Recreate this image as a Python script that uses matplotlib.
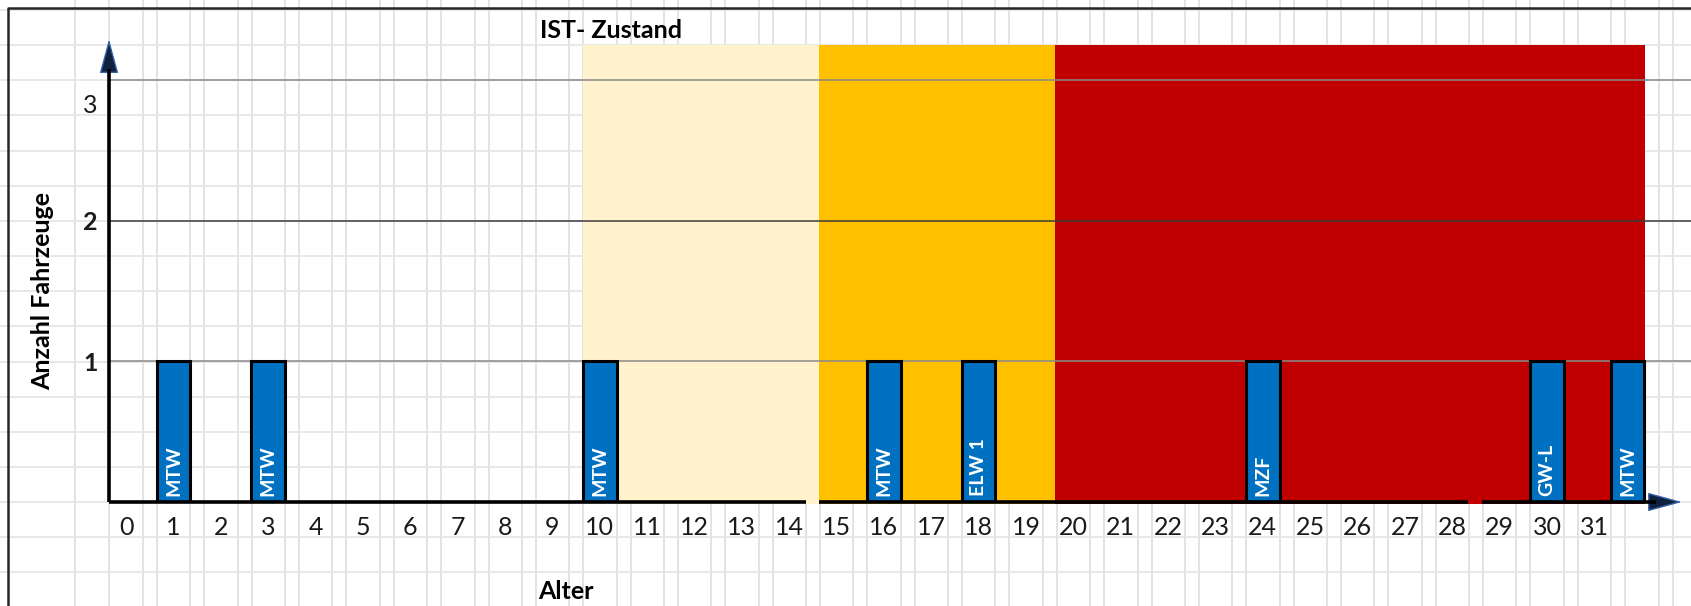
import matplotlib
matplotlib.use('Agg')
import matplotlib.pyplot as plt
import matplotlib.transforms as mtransforms
from matplotlib.lines import Line2D

plt.rcParams['font.family'] = ['Lato', 'DejaVu Sans']

# --- data ---
ages = list(range(32))
age_labels = [str(a) for a in ages]

bar_pos = [1, 3, 10, 16, 18, 24, 30, 31.7]
bar_counts = [1, 1, 1, 1, 1, 1, 1, 1]
bar_names = ['MTW', 'MTW', 'MTW', 'MTW', 'ELW 1', 'MZF', 'GW-L', 'MTW']

zone_edges = [9.64, 14.62, 19.62, 32.07]
zone_colors = ['#FFF2CC', '#FFC000', '#C00000']
zone_top = 3.25

y_ticks = [1, 2, 3]
y_tick_labels = ['1', '2', '3']
y_grid_colors = ['#8a8a8a', '#3c3c3c', '#8a8a8a']

W, H = 1691, 606
fig = plt.figure(figsize=(W / 100, H / 100), dpi=100)

# spreadsheet cell grid shining through the transparent chart
cols = [75, 109] + [143 + 47.36 * k for k in range(33)] + [157 + 47.36 * k for k in range(33)]
rows = [10 + 35.15 * k for k in range(18)]
for cx in cols:
    fig.add_artist(Line2D([cx / W, cx / W], [0, 1], color='#e0e0e0', lw=1.3, zorder=-3))
for ry in rows:
    fig.add_artist(Line2D([0, 1], [1 - ry / H, 1 - ry / H], color='#e6e6e6', lw=1.3, zorder=-3))
# chart frame
fig.add_artist(Line2D([8 / W, 8 / W, 1], [0, 1 - 8 / H, 1 - 8 / H], color='#262626', lw=1.8, zorder=-2))

x0 = -0.36
ax = fig.add_axes([109 / W, 1 - 502 / H, 1 - 109 / W, (502 - 30) / H])
ax.set_xlim(x0, 33.04)
ax.set_ylim(0, 3.355)
ax.set_facecolor('none')
for s in ax.spines.values():
    s.set_visible(False)

# age zones
for i, c in enumerate(zone_colors):
    ax.fill_between([zone_edges[i], zone_edges[i + 1]], -0.012, zone_top, color=c, lw=0,
                    zorder=1, clip_on=False)

# horizontal value lines
for y, c in zip(y_ticks, y_grid_colors):
    ax.axhline(y, color=c, lw=1.1, zorder=2)

# vehicles
ax.bar(bar_pos, bar_counts, width=0.71, color='#0070C0', edgecolor='black', linewidth=2.2, zorder=4)
for x, name in zip(bar_pos, bar_names):
    ax.annotate(name, (x, 0), xytext=(0, 4), textcoords='offset points', rotation=90,
                ha='center', va='bottom', color='white', fontweight='bold', fontsize=14, zorder=5)

# axes lines with arrows
head = dict(arrowstyle='-|>,head_length=2.2,head_width=0.6', mutation_scale=10,
            fc='#10203f', ec='#3563a8', lw=1.0, shrinkA=0, shrinkB=0)
for a, b in [(x0, 14.36), (14.62, 28.34), (28.63, 32.3)]:
    ax.plot([a, b], [0, 0], color='black', lw=2.6, solid_capstyle='butt', clip_on=False, zorder=8)
ax.annotate('', xy=(32.85, 0), xytext=(31.5, 0), arrowprops=head, zorder=7, annotation_clip=False)
ax.plot([x0, x0], [0, 3.08], color='black', lw=2.6, solid_capstyle='butt', clip_on=False, zorder=8)
ax.annotate('', xy=(x0, 3.29), xytext=(x0, 2.8), arrowprops=head, zorder=7, annotation_clip=False)

# ticks
ax.set_xticks(ages)
ax.set_xticklabels(age_labels, fontsize=18, color='#1a1a1a')
ax.tick_params(axis='x', length=0, pad=10)
ax.set_yticks(y_ticks)
ax.set_yticklabels(y_tick_labels, fontsize=18, color='#1a1a1a')
ax.tick_params(axis='y', length=0, pad=8)
ylabs = ax.get_yticklabels()
for lab in ylabs[:2]:
    lab.set_fontweight('bold')
ylabs[2].set_transform(ylabs[2].get_transform() + mtransforms.ScaledTranslation(0, -0.24, fig.dpi_scale_trans))

ax.set_xlabel('Alter', fontsize=18, fontweight='bold')
ax.xaxis.label.set_va('center')
ax.xaxis.set_label_coords(0.289, -0.189)
ax.set_ylabel('Anzahl Fahrzeuge', fontsize=18, fontweight='bold')
ax.yaxis.label.set_va('center')
ax.yaxis.set_label_coords(-0.0417, 0.447)

ax.text(0.3176, 1.0, 'IST- Zustand', transform=ax.transAxes, ha='center', va='center',
        fontsize=18, fontweight='bold')

fig.savefig('out.png', dpi=100)
